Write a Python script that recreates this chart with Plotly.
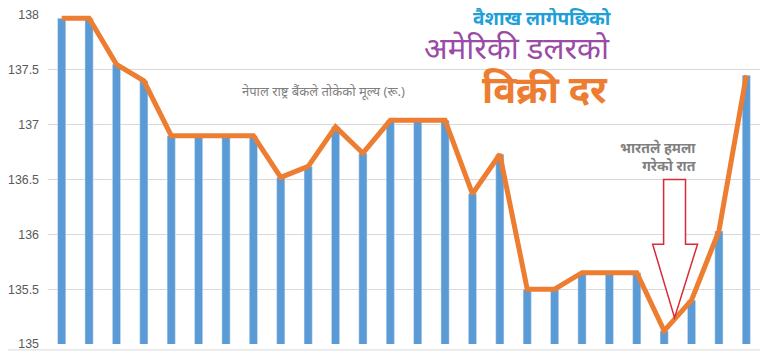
import plotly.graph_objects as go

categories = [f"D{i}" for i in range(1, 27)]
rates = [137.97, 137.97, 137.55, 137.40, 136.90, 136.90, 136.90, 136.90,
         136.52, 136.62, 136.98, 136.74, 137.04, 137.04, 137.04, 136.37,
         136.73, 135.50, 135.50, 135.65, 135.65, 135.65, 135.12, 135.40,
         136.03, 137.45]
y_ticks = [135, 135.5, 136, 136.5, 137, 137.5, 138]
y_tick_labels = ["135", "135.5", "136", "136.5", "137", "137.5", "138"]

BLUE = "#5B9BD5"
ORANGE = "#ED7D31"
FONT = "Noto Sans, Lato, sans-serif"

fig = go.Figure()
fig.add_trace(go.Bar(x=categories, y=rates, base=0, marker_color=BLUE,
                     width=0.3, showlegend=False))
fig.add_trace(go.Scatter(x=categories, y=rates, mode="lines",
                         line=dict(color=ORANGE, width=5), showlegend=False))

# arrow (outlined, pointing down) in data coordinates
ax = [21.58, 21.98, 22.78, 23.22, 22.38]
ay = [135.91, 136.50, 135.24]
path = (f"M {ax[1]},{ay[1]} L {ax[2]},{ay[1]} L {ax[2]},{ay[0]} L {ax[3]},{ay[0]} "
        f"L {ax[4]},{ay[2]} L {ax[0]},{ay[0]} L {ax[1]},{ay[0]} Z")
fig.add_shape(type="path", path=path, xref="x", yref="y",
              line=dict(color="#D92B35", width=1.5), fillcolor="white")

# outer chart border
fig.add_shape(type="rect", xref="paper", yref="paper", x0=-0.0646, x1=1.004,
              y0=-0.018, y1=1.036, line=dict(color="#D9D9D9", width=1), layer="below")

def px(xw):
    return (xw - 48) / 712

def py(yw):
    return (344 - yw) / 329

fig.add_annotation(text="वैशाख लागेपछिको", xref="paper", yref="paper",
                   x=px(613), y=py(18), showarrow=False, xanchor="right", yanchor="middle",
                   font=dict(family=FONT, size=19, color="#1E9FD8", weight="bold"))
fig.add_annotation(text="अमेरिकी डलरको", xref="paper", yref="paper",
                   x=px(612), y=py(47), showarrow=False, xanchor="right", yanchor="middle",
                   font=dict(family=FONT, size=31, color="#9A4BA6"))
fig.add_annotation(text="विक्री दर", xref="paper", yref="paper",
                   x=px(610), y=py(88), showarrow=False, xanchor="right", yanchor="middle",
                   font=dict(family=FONT, size=38, color=ORANGE, weight="bold"))
fig.add_annotation(text="नेपाल राष्ट्र बैंकले तोकेको मूल्य (रू.)", xref="paper", yref="paper",
                   x=px(323), y=py(80), showarrow=False,
                   font=dict(family=FONT, size=13, color="#7F7F7F"))
fig.add_annotation(text="भारतले हमला<br>गरेको रात", xref="paper", yref="paper",
                   x=px(698), y=py(156), showarrow=False,
                   xanchor="right", align="right",
                   font=dict(family=FONT, size=14, color="#7F7F7F", weight="bold"))

fig.update_layout(
    width=768, height=356,
    margin=dict(l=40, r=16, t=7, b=20),
    paper_bgcolor="white", plot_bgcolor="white",
    bargap=0.7,
    xaxis=dict(showticklabels=False, showgrid=False, zeroline=False,
               showline=False, range=[-0.5, 25.5], automargin=False),
    yaxis=dict(range=[135, 138], tickvals=y_ticks, ticktext=y_tick_labels,
               showgrid=True, gridcolor="#D9D9D9", gridwidth=1, zeroline=False,
               tickfont=dict(family="Liberation Sans, Arial", size=12.4, color="#595959"),
               ticks="", ticklabelstandoff=8, automargin=False,
               ticklabeloverflow="allow"),
)

fig.write_html("out.html")
